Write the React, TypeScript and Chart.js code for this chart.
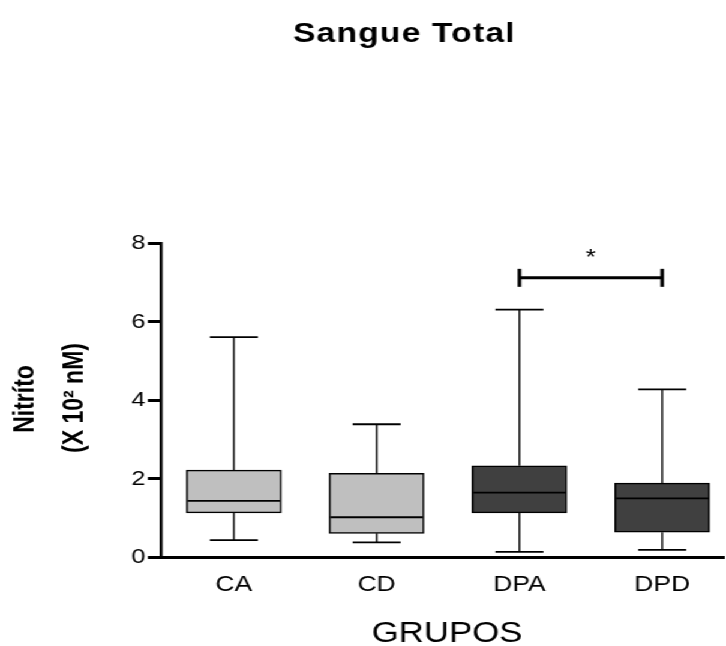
import { useEffect, useRef } from 'react';
import { Chart, registerables } from 'chart.js';

Chart.register(...registerables);

// ---- data ----
const categories = ['CA', 'CD', 'DPA', 'DPD'];
const whiskerLow = [0.44, 0.38, 0.14, 0.19];
const quartile1 = [1.13, 0.61, 1.13, 0.64];
const medians = [1.44, 1.02, 1.65, 1.5];
const quartile3 = [2.22, 2.14, 2.33, 1.89];
const whiskerHigh = [5.61, 3.39, 6.31, 4.28];
const boxColors = ['#bfbfbf', '#bfbfbf', '#404040', '#404040'];
const yTicks = [0, 2, 4, 6, 8];
const sigPair = [2, 3];
const sigLevel = [7.12];
const sigLabel = ['*'];

const FONT = '"Liberation Sans", Arial, Helvetica, sans-serif';
const STRETCH = 1.2;
const W = 605;
const H = 646;

const extras = {
  id: 'boxExtras',
  afterDatasetsDraw(chart: any) {
    const { ctx, scales } = chart;
    const x = scales.x;
    const y = scales.y;
    const meta = chart.getDatasetMeta(0);
    const capHalf = 20;
    const seg = (x1: number, y1: number, x2: number, y2: number) => {
      ctx.beginPath();
      ctx.moveTo(x1, y1);
      ctx.lineTo(x2, y2);
      ctx.stroke();
    };
    ctx.save();
    ctx.strokeStyle = '#000';
    ctx.lineCap = 'butt';
    categories.forEach((_, i) => {
      const cx = x.getPixelForValue(i);
      const pMax = y.getPixelForValue(whiskerHigh[i]);
      const pMin = y.getPixelForValue(whiskerLow[i]);
      const pQ1 = y.getPixelForValue(quartile1[i]);
      const pQ3 = y.getPixelForValue(quartile3[i]);
      const pMed = y.getPixelForValue(medians[i]);
      ctx.lineWidth = 1.4;
      seg(cx, pQ3, cx, pMax);
      seg(cx, pQ1, cx, pMin);
      ctx.lineWidth = 1.8;
      seg(cx - capHalf, pMax, cx + capHalf, pMax);
      seg(cx - capHalf, pMin, cx + capHalf, pMin);
      const bw = meta.data[i] ? meta.data[i].width : 79;
      ctx.lineWidth = 1.8;
      seg(cx - bw / 2 + 1, pMed, cx + bw / 2 - 1, pMed);
    });
    // significance bracket
    const bx1 = x.getPixelForValue(sigPair[0]);
    const bx2 = x.getPixelForValue(sigPair[1]);
    const by = y.getPixelForValue(sigLevel[0]);
    ctx.lineWidth = 3;
    seg(bx1, by, bx2, by);
    seg(bx1, by - 9, bx1, by + 9);
    seg(bx2, by - 9, bx2, by + 9);
    ctx.fillStyle = '#000';
    ctx.font = `22px ${FONT}`;
    ctx.textAlign = 'center';
    ctx.textBaseline = 'alphabetic';
    ctx.fillText(sigLabel[0], (bx1 + bx2) / 2, by - 13.5);
    ctx.restore();
  },
  afterDraw(chart: any) {
    const { ctx, chartArea } = chart;
    ctx.save();
    ctx.fillStyle = '#000';
    ctx.textAlign = 'center';
    ctx.textBaseline = 'alphabetic';
    // main title
    ctx.font = `bold 28px ${FONT}`;
    (ctx as any).letterSpacing = '1px';
    ctx.fillText('Sangue Total', 337, 42);
    (ctx as any).letterSpacing = '0px';
    // x axis title
    ctx.font = `29px ${FONT}`;
    ctx.fillText('GRUPOS', (chartArea.left + chartArea.right) / 2 + 4, 641.5);
    // y axis title (two rotated lines)
    ctx.font = `bold 23px ${FONT}`;
    ctx.save();
    ctx.translate(28, 399);
    ctx.rotate(-Math.PI / 2);
    ctx.fillText('Nitríto', 0, 0);
    ctx.restore();
    ctx.save();
    ctx.translate(69.4, 398);
    ctx.rotate(-Math.PI / 2);
    ctx.fillText('(X 10² nM)', 0, 0);
    ctx.restore();
    ctx.restore();
  },
};

export default function App() {
  const ref = useRef<HTMLCanvasElement>(null);
  useEffect(() => {
    const canvas = ref.current;
    if (!canvas) return;
    Chart.defaults.font.family = FONT;
    const chart = new Chart(canvas, {
      type: 'bar',
      data: {
        datasets: [
          {
            data: categories.map((_, i) => ({ x: i, y: [quartile1[i], quartile3[i]] })) as any,
            backgroundColor: boxColors,
            borderColor: '#000',
            borderWidth: 1.5,
            borderSkipped: false,
            barThickness: 79,
          } as any,
        ],
      },
      options: {
        responsive: false,
        animation: false,
        devicePixelRatio: 1,
        layout: { padding: { top: 243.3, right: 2, left: 0, bottom: 0 } },
        plugins: {
          legend: { display: false },
          tooltip: { enabled: false },
          title: { display: false },
        },
        scales: {
          x: {
            type: 'linear',
            min: -0.51,
            max: 3.43,
            offset: false,
            grid: { display: true, drawOnChartArea: false, drawTicks: false },
            border: { display: true, color: '#000', width: 3 },
            ticks: {
              padding: 14,
              color: '#000',
              font: { family: FONT, size: 22 },
              autoSkip: false,
              maxRotation: 0,
              callback: (v: any) => categories[v as number] ?? '',
            },
            afterBuildTicks: (s: any) => {
              s.ticks = categories.map((_, i) => ({ value: i }));
            },
            afterFit: (s: any) => {
              s.height = 88.7;
            },
          } as any,
          y: {
            min: 0,
            max: 8,
            grid: {
              display: true,
              drawOnChartArea: false,
              drawTicks: true,
              tickLength: 11,
              tickWidth: 3,
              tickColor: '#000',
            },
            border: { display: true, color: '#000', width: 2.5 },
            ticks: {
              padding: 2,
              color: '#000',
              font: { family: FONT, size: 21 },
            },
            afterBuildTicks: (s: any) => {
              s.ticks = yTicks.map((v) => ({ value: v }));
            },
            afterFit: (s: any) => {
              s.width = 134.2;
            },
          } as any,
        },
      },
      plugins: [extras],
    });
    return () => chart.destroy();
  }, []);

  return (
    <div
      style={{
        position: 'fixed',
        left: 0,
        top: 0,
        width: W,
        height: H,
        transform: `scaleX(${STRETCH})`,
        transformOrigin: '0 0',
        background: '#fff',
      }}
    >
      <canvas ref={ref} width={W} height={H} style={{ display: 'block', width: W, height: H }} />
    </div>
  );
}
